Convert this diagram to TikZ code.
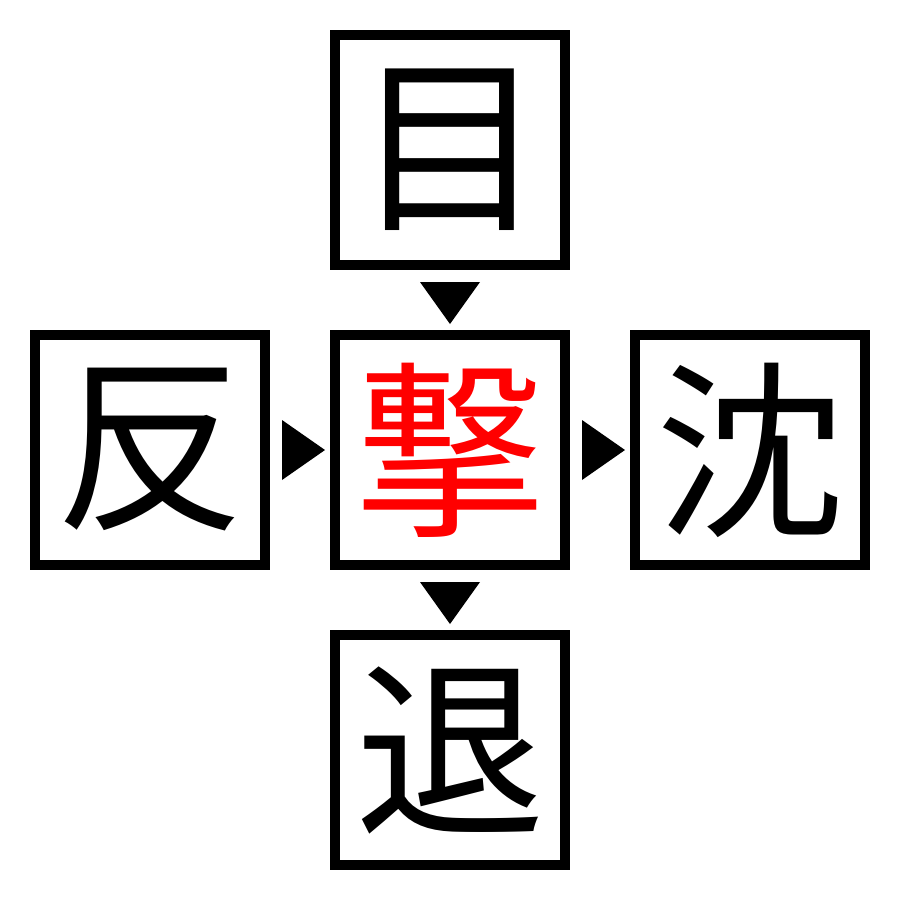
\documentclass[tikz,border=0pt]{standalone}
\usepackage{fontspec}
\newfontfamily\cjk{Noto Sans CJK JP}
\usetikzlibrary{calc}
\begin{document}
\begin{tikzpicture}[x=0.02cm,y=-0.02cm,
  cell/.style={draw=black,line width=0.2cm,minimum size=4.6cm,inner sep=0pt,outer sep=0pt,font=\cjk\fontsize{108}{108}\selectfont},
  hint/.style={fill=black,draw=none}]
\useasboundingbox (0,0) rectangle (900,900);
\node[cell] (top) at (450,150) {目};
\node[cell] (left) at (150,450) {反};
\node[cell,text=red] (mid) at (450,450) {撃};
\node[cell] (right) at (750,450) {沈};
\node[cell] (bot) at (450,750) {退};
% down triangles
\fill[hint] (420,282) -- (480,282) -- (450,324) -- cycle;
\fill[hint] (420,582) -- (480,582) -- (450,624) -- cycle;
% right triangles
\fill[hint] (282,420) -- (282,480) -- (325,450) -- cycle;
\fill[hint] (582,420) -- (582,480) -- (625,450) -- cycle;
\end{tikzpicture}
\end{document}
